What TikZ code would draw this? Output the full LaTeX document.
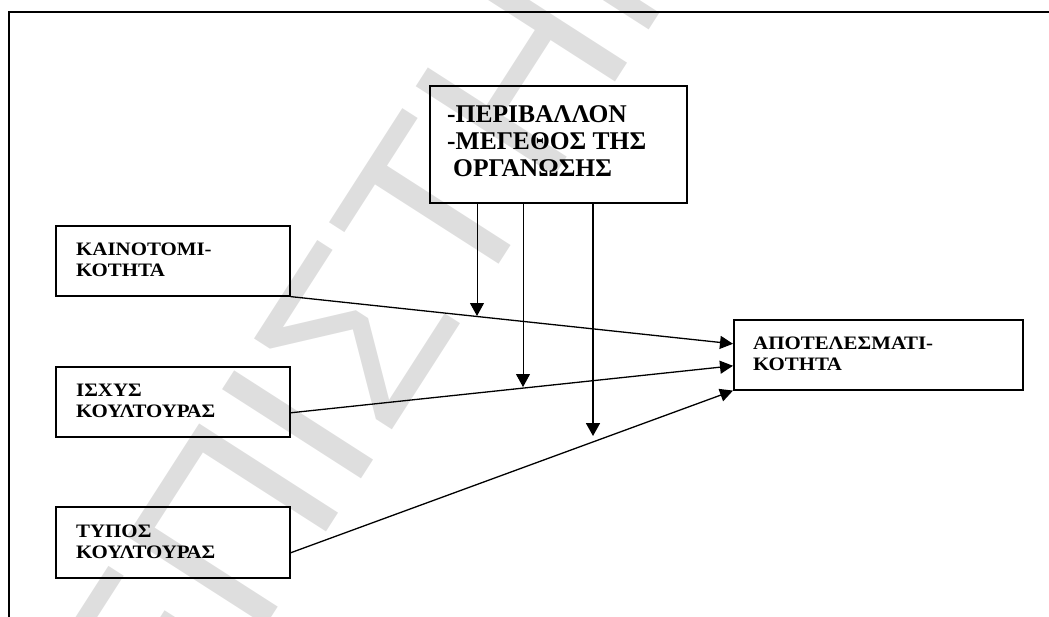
\documentclass[tikz,border=0pt]{standalone}
\usepackage{fontspec}
\setmainfont{Liberation Serif}
\newfontfamily\boxfont[FakeStretch=1.1]{Liberation Serif}
\newfontfamily\wmfont{Liberation Sans}
\usetikzlibrary{arrows.meta}
\begin{document}
\begin{tikzpicture}[x=1pt,y=-1pt,
  box/.style={draw, line width=1.6pt, inner sep=0pt, anchor=north west},
  lbl/.style={font=\boxfont\bfseries\fontsize{19}{20.5}\selectfont, align=left, anchor=west, inner sep=0pt},
  toplbl/.style={font=\bfseries\fontsize{25.5}{27}\selectfont, align=left, anchor=west, inner sep=0pt},
  conn/.style={line width=1.3pt, -{Triangle[length=13pt,width=13pt]}},
  mod/.style={line width=1pt, -{Triangle[length=13pt,width=14pt]}},
  wm/.style={font=\wmfont\fontsize{240}{240}\selectfont, text=black!13, rotate=57.3, inner sep=0pt}
]
\useasboundingbox (0,0) rectangle (1049,616);
\clip (0,0) rectangle (1049,616);
% watermark
\node[wm] (wmark) at (320,390) {ΠΑΝΕΠΙΣΤΗΜΙΟ};
% outer frame
\draw[line width=1.5pt] (9,630) -- (9,12) -- (1060,12);
% boxes
\node[box, minimum width=257pt, minimum height=117pt] (env) at (429,85) {};
\node[box, minimum width=234pt, minimum height=70pt] (kai) at (55,225) {};
\node[box, minimum width=234pt, minimum height=70pt] (isx) at (55,366) {};
\node[box, minimum width=234pt, minimum height=71pt] (typ) at (55,506) {};
\node[box, minimum width=289pt, minimum height=70pt] (res) at (733,319) {};
% labels
\node[toplbl] (envt) at (447,141) {-ΠΕΡΙΒΑΛΛΟΝ\\-ΜΕΓΕΘΟΣ ΤΗΣ\\\hspace*{6pt}ΟΡΓΑΝΩΣΗΣ};
\node[lbl] (kait) at (76,260) {ΚΑΙΝΟΤΟΜΙ-\\ΚΟΤΗΤΑ};
\node[lbl] (isxt) at (76,401) {ΙΣΧΥΣ\\ΚΟΥΛΤΟΥΡΑΣ};
\node[lbl] (typt) at (76,542) {ΤΥΠΟΣ\\ΚΟΥΛΤΟΥΡΑΣ};
\node[lbl] (rest) at (753,354) {ΑΠΟΤΕΛΕΣΜΑΤΙ-\\ΚΟΤΗΤΑ};
% main connectors
\coordinate (r1) at ([yshift=11pt]res.west);
\coordinate (r2) at ([yshift=-11pt]res.west);
\coordinate (s2) at ([yshift=-11pt]isx.east);
\coordinate (s3) at ([yshift=-10.5pt]typ.east);
\draw[conn] (kai.south east) -- (r1);
\draw[conn] (s2) -- (r2);
\draw[conn] (s3) -- (res.south west);
% moderator arrows
\coordinate (m1) at (477,316);
\coordinate (m2) at (523,387);
\coordinate (m3) at (593,436);
\draw[mod] (env.south -| m1) -- (m1);
\draw[mod] (env.south -| m2) -- (m2);
\draw[mod, line width=1.8pt] (env.south -| m3) -- (m3);
\end{tikzpicture}
\end{document}
